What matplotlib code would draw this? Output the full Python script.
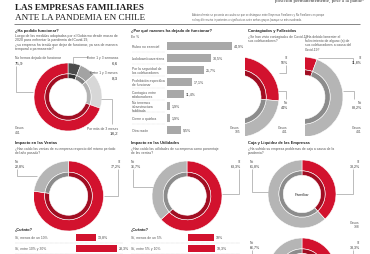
import numpy as np
import matplotlib
matplotlib.use("Agg")
import matplotlib.pyplot as plt

W, H = 370, 255

RED = "#d2122e"
RED_D = "#a10d22"
GRAY = "#b5b5b5"
GRAY_D = "#8c8c8c"

# --- data ---
func_labels = ["Entre 1 y 3 semanas", "Entre 1 y 3 meses", "Por más de 3 meses",
               "No hemos dejado de funcionar"]
func_vals = [6.6, 8.3, 18.2, 75.9]
func_casos = 441

razones = ["Rubro no esencial", "Lockdown/cuarentena", "Por la seguridad de\nlos colaboradores",
           "Prohibición específica\nde funcionar", "Contagios entre\ncolaboradores",
           "No tenemos\ninfraestructura\nhabilitada", "Cierre o quiebra", "Otra razón"]
razon_vals = [44.9, 30.5, 25.7, 17.1, 11.4, 1.9, 1.9, 9.5]
razon_casos = 105

contagio_vals = [56, 44]
fallec_vals = [11.8, 88.2]
contagio_casos = 441

ventas_vals = [77.2, 22.8]
ventas_cuanto_labels = ["Sí, menos de un 10%", "Sí, entre 10% y 30%"]
ventas_cuanto_vals = [13.8, 28.3]

util_vals = [63.3, 36.7]
util_cuanto_labels = ["Sí, menos de un 5%", "Sí, entre 5% y 10%"]
util_cuanto_vals = [18.0, 18.3]

caja_fam_vals = [38.2, 61.8]
caja_nofam_vals = [33.3, 66.7]
caja_casos = 338


def fmt(v, pct=True):
    s = ("%d" % v) if float(v).is_integer() else ("%.1f" % v).replace(".", ",")
    return s + ("%" if pct else "")


fig = plt.figure(figsize=(3.7, 2.55), dpi=100)
fig.patch.set_facecolor("white")

ov = fig.add_axes([0, 0, 1, 1])
ov.set_xlim(0, W)
ov.set_ylim(H, 0)
ov.axis("off")
ov.set_zorder(10)

SANS = ["Liberation Sans", "DejaVu Sans"]
SERIF = ["Liberation Serif", "DejaVu Serif"]


def T(x, y, s, fs=2.6, bold=False, ha="left", color="#555555", va="center", family=SANS, ls=1.15):
    ov.text(x, y, s, fontsize=fs, fontweight="bold" if bold else "normal", ha=ha, va=va,
            color=color, family=family, linespacing=ls)


def L(pts, color="#8a8a8a", lw=0.4, ls="-"):
    pts = np.array(pts)
    ov.plot(pts[:, 0], pts[:, 1], color=color, lw=lw, ls=ls, solid_capstyle="butt")


def donut(cx, cy, r, vals, cols, darks, start=90, box=None):
    if box is None:
        box = (cx - r, cy - r, cx + r, cy + r)
    x0, y0, x1, y1 = box
    ax = fig.add_axes([x0 / W, 1 - y1 / H, (x1 - x0) / W, (y1 - y0) / H])
    wp = dict(edgecolor="white", linewidth=0.4)
    outer, _ = ax.pie(vals, colors=cols, radius=1, startangle=start, counterclock=False,
                      wedgeprops=dict(width=0.32, **wp))
    inner, _ = ax.pie(vals, colors=darks, radius=0.68, startangle=start, counterclock=False,
                      wedgeprops=dict(width=0.13, **wp))
    for w in list(outer) + list(inner):
        w.set_clip_on(True)
    ax.set_aspect("auto")
    ax.set_xlim((x0 - cx) / r, (x1 - cx) / r)
    ax.set_ylim((cy - y1) / r, (cy - y0) / r)
    ax.axis("off")
    return ax


def hbars(x0, y0, row_h, bar_h, vals, color, scale, width_px, fs=2.6):
    n = len(vals)
    ax = fig.add_axes([x0 / W, 1 - (y0 + n * row_h) / H, width_px / W, n * row_h / H])
    ax.barh(np.arange(n), vals, height=bar_h / row_h, color=color)
    ax.set_xlim(0, width_px / scale)
    ax.set_ylim(n - 0.5, -0.5)
    ax.axis("off")
    for i, v in enumerate(vals):
        ax.text(v + 2 / scale, i, fmt(v), fontsize=fs, va="center", ha="left",
                color="#444444", family=SANS)
    return ax


# --- header ---
T(15, 8.5, "LAS EMPRESAS FAMILIARES", fs=6.6, bold=True, color="#1e1e1e", family=SERIF)
T(15, 18.5, "ANTE LA PANDEMIA EN CHILE", fs=6.6, color="#1e1e1e", family=SERIF)
T(275, 1.2, "posición permanentemente, pese a la pande-", fs=3.6, color="#333333", family=SERIF)
T(192, 17.5, "Adicionalmente se presenta un cuadro en que se distinguen entre Empresas Familiares y No Familiares en porque\n"
  "no hay diferencias importantes o significativas entre ambos grupos (aunque se más moderado.",
  fs=1.9, color="#666666")
L([(14, 24.8), (360, 24.8)], color="#555555", lw=0.5)

# --- panel 1: ha podido funcionar ---
T(15, 31, "¿Ha podido funcionar?", fs=2.9, bold=True, color="#222222")
T(15, 42.5, "Luego de las medidas adoptadas por el Gobierno desde marzo de\n"
  "2020 para enfrentar la pandemia del Covid-19,\n"
  "¿su empresa ha tenido que dejar de funcionar, ya sea de manera\n"
  "temporal o permanente?", fs=2.5, ls=1.2)
donut(68, 98, 34, func_vals,
      ["#4b4b4b", "#a3a3a3", "#d7d7d7", RED],
      ["#323232", "#808080", "#b3b3b3", RED_D])
T(15, 58.5, func_labels[3], fs=2.4)
T(15, 63.5, fmt(func_vals[3], False), fs=3.2, color="#333333")
L([(16, 67), (16, 93), (33, 93)])
T(118, 58, func_labels[0], fs=2.4, ha="right")
T(118, 63.5, fmt(func_vals[0], False), fs=3.2, ha="right", color="#333333")
L([(73, 65), (73, 58), (88, 58)])
T(118, 73, func_labels[1], fs=2.4, ha="right")
T(118, 78.5, fmt(func_vals[1], False), fs=3.2, ha="right", color="#333333")
L([(89, 73), (94, 73)])
L([(101, 100), (112, 100), (112, 125)])
T(118, 129, func_labels[2], fs=2.4, ha="right")
T(118, 134, fmt(func_vals[2], False), fs=3.2, ha="right", color="#333333")
T(15, 130.5, "Casos\n%d" % func_casos, fs=2.4, ls=1.1)

# --- panel 2: razones ---
T(131, 31, "¿Por qué razones ha dejado de funcionar?", fs=2.9, bold=True, color="#222222")
T(131, 36.5, "En %", fs=2.4)
hbars(167, 41, 12, 8, razon_vals, "#a8a8a8", 1.45, 73)
for i, lab in enumerate(razones):
    yc = 47 + 12 * i
    T(132, yc, lab, fs=2.4, ls=1.1)
    if i < len(razones) - 1:
        L([(132, yc + 6), (165, yc + 6)], color="#cccccc", lw=0.3, ls=(0, (1, 1)))
T(240, 130, "Casos\n%d" % razon_casos, fs=2.4, ha="right", ls=1.1)

# --- panel 3: contagiados y fallecidos ---
T(248, 31, "Contagiados y Fallecidos", fs=2.9, bold=True, color="#222222")
T(248, 39, "¿Se han visto contagiados de Covid-19\nsus colaboradores?", fs=2.4, ls=1.15)
T(305, 43, "¿Ha debido lamentar el\nfallecimiento de alguno (a) de\nsus colaboradores a causa del\nCovid-19?",
  fs=2.4, ls=1.15)
donut(239, 98, 40, contagio_vals, [RED, GRAY], [RED_D, GRAY_D], start=196,
      box=(245, 55, 281, 137))
donut(303, 98, 40, fallec_vals, [RED, GRAY], [RED_D, GRAY_D], start=112,
      box=(305, 55, 350, 137))
T(288, 58, "Sí", fs=2.4, ha="right")
T(288, 63, fmt(contagio_vals[0]), fs=2.6, ha="right", color="#333333")
L([(286, 66), (286, 74), (279, 74)])
T(288, 103, "No", fs=2.4, ha="right")
T(288, 108, fmt(contagio_vals[1]), fs=2.6, ha="right", color="#333333")
L([(278, 92), (286, 92), (286, 100)])
T(288, 130, "Casos\n%d" % contagio_casos, fs=2.4, ha="right", ls=1.1)
T(362, 58, "Sí", fs=2.4, ha="right")
T(362, 63, fmt(fallec_vals[0]), fs=2.6, ha="right", color="#333333")
L([(318, 58.5), (353, 58.5), (353, 64)])
T(362, 103, "No", fs=2.4, ha="right")
T(362, 108, fmt(fallec_vals[1]), fs=2.6, ha="right", color="#333333")
L([(343, 92), (354, 92), (354, 100)])
T(362, 130, "Casos\n%d" % contagio_casos, fs=2.4, ha="right", ls=1.1)

# --- panel 4: ventas ---
T(15, 143.5, "Impacto en las Ventas", fs=2.9, bold=True, color="#222222")
T(15, 151, "¿Han caído las ventas de su empresa respecto del mismo período\ndel año pasado?", fs=2.4)
donut(68.5, 197, 35, ventas_vals, [RED, GRAY], [RED_D, GRAY_D])
T(15, 162, "No", fs=2.4)
T(15, 167, fmt(ventas_vals[1]), fs=2.6, color="#333333")
L([(17, 170), (17, 177), (37, 177)])
T(121, 162, "Sí", fs=2.4, ha="right")
T(121, 167, fmt(ventas_vals[0]), fs=2.6, ha="right", color="#333333")
L([(118, 170), (118, 197), (104, 197)])
T(15, 229, "¿Cuánto?", fs=2.8, bold=True, color="#222222")
hbars(76, 232.5, 11, 7, ventas_cuanto_vals, RED, 1.45, 45)
for i, lab in enumerate(ventas_cuanto_labels):
    T(15, 238 + 11 * i, lab, fs=2.4)
    L([(15, 243.8 + 11 * i), (123, 243.8 + 11 * i)], color="#bbbbbb", lw=0.3, ls=(0, (1, 1)))

# --- panel 5: utilidades ---
T(131, 143.5, "Impacto en las Utilidades", fs=2.9, bold=True, color="#222222")
T(131, 151, "¿Han caído las utilidades de su empresa como porcentaje\nde las ventas?", fs=2.4)
donut(187, 197, 35, util_vals, [RED, GRAY], [RED_D, GRAY_D])
T(131, 162, "No", fs=2.4)
T(131, 167, fmt(util_vals[1]), fs=2.6, color="#333333")
L([(133, 170), (133, 188), (153, 188)])
T(241, 162, "Sí", fs=2.4, ha="right")
T(241, 167, fmt(util_vals[0]), fs=2.6, ha="right", color="#333333")
L([(239, 170), (239, 195), (222, 195)])
T(131, 229, "¿Cuánto?", fs=2.8, bold=True, color="#222222")
hbars(188, 232.5, 11, 7, util_cuanto_vals, RED, 1.45, 45)
for i, lab in enumerate(util_cuanto_labels):
    T(131, 238 + 11 * i, lab, fs=2.4)
    L([(131, 243.8 + 11 * i), (240, 243.8 + 11 * i)], color="#bbbbbb", lw=0.3, ls=(0, (1, 1)))

# --- panel 6: caja ---
T(248, 143.5, "Caja y Liquidez de las Empresas", fs=2.9, bold=True, color="#222222")
T(248, 151, "¿Ha sufrido su empresa problemas de caja a causa de la\npandemia?", fs=2.4)
donut(302, 195, 34, caja_fam_vals, [RED, GRAY], [RED_D, GRAY_D])
T(302, 195, "Familiar", fs=3.1, ha="center", color="#333333")
T(250, 162, "No", fs=2.4)
T(250, 167, fmt(caja_fam_vals[1]), fs=2.6, color="#333333")
L([(252, 170), (252, 193), (268, 193)])
T(360, 162, "Sí", fs=2.4, ha="right")
T(360, 167, fmt(caja_fam_vals[0]), fs=2.6, ha="right", color="#333333")
L([(353, 170), (353, 195), (336, 195)])
T(360, 225, "Casos\n%d" % caja_casos, fs=2.4, ha="right", ls=1.1)
donut(302, 273, 34, caja_nofam_vals, [RED, GRAY], [RED_D, GRAY_D],
      box=(268, 239, 336, 255))
T(250, 243, "No", fs=2.4)
T(250, 248, fmt(caja_nofam_vals[1]), fs=2.6, color="#333333")
L([(252, 251), (252, 255)])
T(360, 243, "Sí", fs=2.4, ha="right")
T(360, 248, fmt(caja_nofam_vals[0]), fs=2.6, ha="right", color="#333333")
L([(353, 251), (353, 255)])

fig.savefig("out.png", dpi=100, facecolor="white")
